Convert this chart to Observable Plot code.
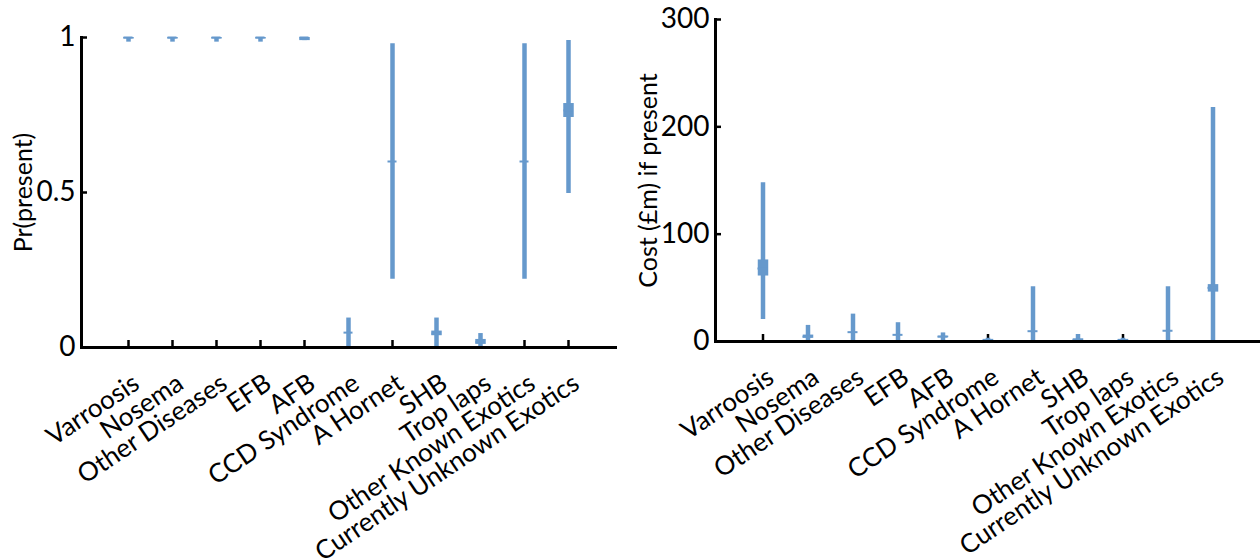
<!DOCTYPE html>
<html>
<head>
<meta charset="utf-8">
<script src="https://cdn.jsdelivr.net/npm/d3@7"></script>
<script src="https://cdn.jsdelivr.net/npm/@observablehq/plot@0.6"></script>
<style>
  body { margin: 0; background: #fff; }
  #wrap { display: flex; width: 1260px; height: 560px; }
  g[aria-label="ylabel"] text { letter-spacing: 1px; }
</style>
</head>
<body>
<div id="wrap"></div>
<script>
const categories = ["Varroosis","Nosema","Other Diseases","EFB","AFB","CCD Syndrome","A Hornet","SHB","Trop laps","Other Known Exotics","Currently Unknown Exotics"];

// Pr(present): whisker low/high, box q1/q3, median
const prLow  = [0.985,0.985,0.985,0.985,0.99, 0,    0.22, 0,     0,     0.22, 0.497];
const prHigh = [1,    1,    1,    1,    1,    0.095,0.98, 0.095, 0.045, 0.98, 0.99];
const prQ1   = [0.995,0.995,0.995,0.995,0.99, 0.048,0.6,  0.038, 0.01,  0.6,  0.742];
const prQ3   = [1,    1,    1,    1,    1,    0.048,0.6,  0.053, 0.026, 0.6,  0.787];
const prMed  = [1,    1,    1,    1,    1,    0.048,0.6,  0.045, 0.018, 0.6,  0.765];

// Cost (£m) if present
const costLow  = [20.5, 0,  0,   0,    0,   0,   0,   0,   0,   0,   0];
const costHigh = [148,  15, 25.5,17.5, 8,   3,   51,  6.5, 3,   51,  218];
const costQ1   = [61,   3,  8.7, 6.2,  3.5, 0,   9.6, 0,   0,   10,  46];
const costQ3   = [76,   6,  8.7, 6.2,  5,   2,   9.6, 2.5, 2,   10,  53];
const costMed  = [68,   4.5,8.7, 6.2,  4.5, 1,   9.6, 1.5, 1,   10,  50];

const prTicks = [0, 0.5, 1];
const costTicks = [0, 100, 200, 300];

const blue = "#6699cc";
const font = "Lato, 'Liberation Sans', sans-serif";

function table(lo, hi, q1, q3, md) {
  return categories.map((c, i) => ({cat: c, lo: lo[i], hi: hi[i], q1: q1[i], q3: q3[i], md: md[i]}));
}

function panel({data, ticks, yDomain, yLabel, marginLeft, marginRight, marginTop, marginBottom, labelDx}) {
  return Plot.plot({
    width: 630,
    height: 560,
    marginLeft, marginRight, marginTop, marginBottom,
    style: {fontFamily: font, background: "white", overflow: "visible"},
    x: {type: "band", domain: categories, paddingInner: 0, paddingOuter: 0.5, axis: null},
    y: {domain: yDomain, axis: null},
    marks: [
      // x tick marks (inward)
      Plot.axisX({anchor: "bottom", tickSize: -7, strokeWidth: 2.5, fill: "none", tickFormat: () => "", label: null}),
      // y tick marks (inward)
      Plot.axisY({anchor: "left", ticks, tickSize: -6, strokeWidth: 2.5, fill: "none", tickFormat: () => "", label: null}),
      // y tick labels
      Plot.axisY({anchor: "left", ticks, tickSize: 0, tickPadding: 6, tickFormat: d => String(d), fontSize: 28, fill: "black", label: null}),
      // whiskers
      Plot.ruleX(data, {x: "cat", y1: "lo", y2: "hi", stroke: blue, strokeWidth: 4.5}),
      // boxes
      Plot.ruleX(data.filter(d => d.q3 > d.q1), {x: "cat", y1: "q1", y2: "q3", stroke: blue, strokeWidth: 10.5}),
      // medians
      Plot.tickY(data, {x: "cat", y: "md", stroke: blue, strokeWidth: 2, insetLeft: 17.5, insetRight: 17.5}),
      // axis lines
      Plot.frame({anchor: "left", strokeWidth: 3}),
      Plot.frame({anchor: "bottom", strokeWidth: 3}),
      // rotated category labels
      Plot.text(categories, {x: d => d, frameAnchor: "bottom", dx: 8, dy: 33, rotate: -34, textAnchor: "end", lineAnchor: "middle", fontSize: 26, fill: "black"}),
      // y axis title
      Plot.text([yLabel], {frameAnchor: "left", dx: labelDx, rotate: -90, textAnchor: "middle", fontSize: 25, fill: "black", ariaLabel: "ylabel"})
    ]
  });
}

const wrap = document.getElementById("wrap");
wrap.appendChild(panel({
  data: table(prLow, prHigh, prQ1, prQ3, prMed),
  ticks: prTicks, yDomain: [0, 1], yLabel: "Pr(present)",
  marginLeft: 81, marginRight: 15, marginTop: 37, marginBottom: 213, labelDx: -58
}));
wrap.appendChild(panel({
  data: table(costLow, costHigh, costQ1, costQ3, costMed),
  ticks: costTicks, yDomain: [0, 300], yLabel: "Cost (£m) if present",
  marginLeft: 85, marginRight: 1, marginTop: 19, marginBottom: 219, labelDx: -67
}));
</script>
</body>
</html>
